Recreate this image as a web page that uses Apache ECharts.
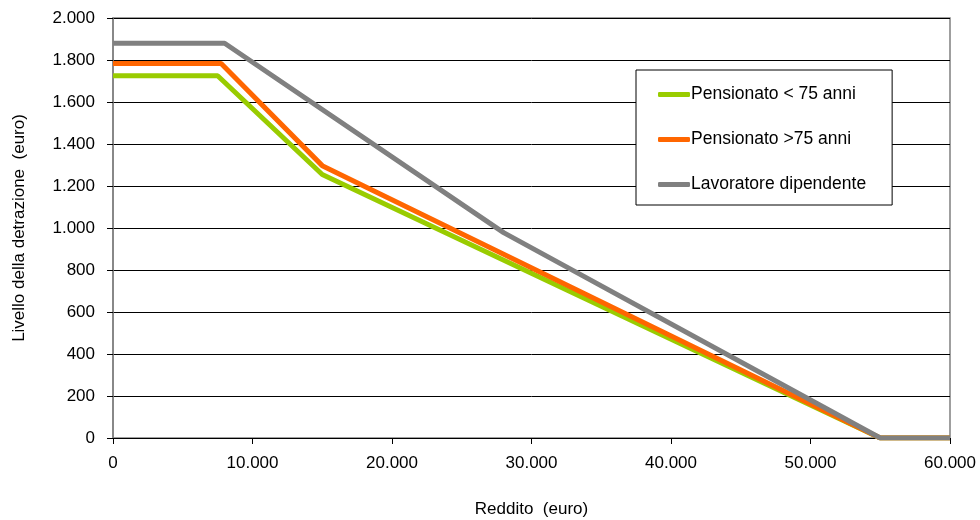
<!DOCTYPE html>
<html>
<head>
<meta charset="utf-8">
<script src="https://cdn.jsdelivr.net/npm/echarts@6/dist/echarts.min.js"></script>
<style>html,body{margin:0;padding:0;background:#fff}#c{width:980px;height:520px}</style>
</head>
<body>
<div id="c"></div>
<script>
const seriesNames = ['Pensionato < 75 anni', 'Pensionato >75 anni', 'Lavoratore dipendente'];
const pensionatoUnder75X = [0, 7500, 15000, 55000, 60000];
const pensionatoUnder75Y = [1725, 1725, 1255, 0, 0];
const pensionatoOver75X = [0, 7750, 15000, 55000, 60000];
const pensionatoOver75Y = [1783, 1783, 1297, 0, 0];
const lavoratoreX = [0, 8000, 28000, 55000, 60000];
const lavoratoreY = [1880, 1880, 978, 0, 0];
const colors = ['#99CC00', '#FF6600', '#808080'];

const fmt = v => String(v).replace(/\B(?=(\d{3})+(?!\d))/g, '.');
const pairs = (xs, ys) => xs.map((x, i) => [x, ys[i]]);
const font = 'Arial, "Liberation Sans", sans-serif';

const chart = echarts.init(document.getElementById('c'), null, {renderer: 'canvas'});
chart.setOption({
  animation: false,
  backgroundColor: '#fff',
  grid: {left: 113, right: 30, top: 18, bottom: 82, show: true, borderColor: '#808080', borderWidth: 1.5, backgroundColor: 'transparent', outerBoundsMode: 'none', containLabel: false},
  legend: {
    orient: 'vertical', left: 636, top: 70,
    padding: [15.5, 26, 11.5, 22],
    backgroundColor: '#fff', borderColor: '#000', borderWidth: 1,
    itemWidth: 32, itemHeight: 5, itemGap: 27,
    icon: 'roundRect',
    textStyle: {fontFamily: font, fontSize: 17.5, color: '#000', padding: [0, 0, 0, -4]},
    data: seriesNames
  },
  xAxis: {
    type: 'value', min: 0, max: 60000, interval: 10000,
    name: 'Reddito  (euro)', nameLocation: 'middle', nameGap: 63,
    nameTextStyle: {fontFamily: font, fontSize: 17, color: '#000'},
    axisLine: {show: true, lineStyle: {color: '#000', width: 1}},
    axisTick: {show: true, inside: false, length: 6, lineStyle: {color: '#000'}},
    axisLabel: {fontFamily: font, fontSize: 17, color: '#000', margin: 17, formatter: fmt},
    splitLine: {show: false}
  },
  yAxis: {
    type: 'value', min: 0, max: 2000, interval: 200,
    name: 'Livello della detrazione  (euro)', nameLocation: 'middle', nameGap: 85, nameRotate: 90,
    nameTextStyle: {fontFamily: font, fontSize: 17, color: '#000'},
    axisLine: {show: true, lineStyle: {color: '#808080', width: 1.5}},
    axisTick: {show: true, inside: false, length: 6, lineStyle: {color: '#000'}},
    axisLabel: {fontFamily: font, fontSize: 17, color: '#000', margin: 18, formatter: fmt},
    splitLine: {show: true, lineStyle: {color: '#000', width: 1}}
  },
  series: [
    {name: seriesNames[0], type: 'line', data: pairs(pensionatoUnder75X, pensionatoUnder75Y), showSymbol: false, symbol: 'none', lineStyle: {color: colors[0], width: 5}, itemStyle: {color: colors[0]}},
    {name: seriesNames[1], type: 'line', data: pairs(pensionatoOver75X, pensionatoOver75Y), showSymbol: false, symbol: 'none', lineStyle: {color: colors[1], width: 5}, itemStyle: {color: colors[1]}},
    {name: seriesNames[2], type: 'line', data: pairs(lavoratoreX, lavoratoreY), showSymbol: false, symbol: 'none', lineStyle: {color: colors[2], width: 5}, itemStyle: {color: colors[2]}}
  ]
});
</script>
</body>
</html>
